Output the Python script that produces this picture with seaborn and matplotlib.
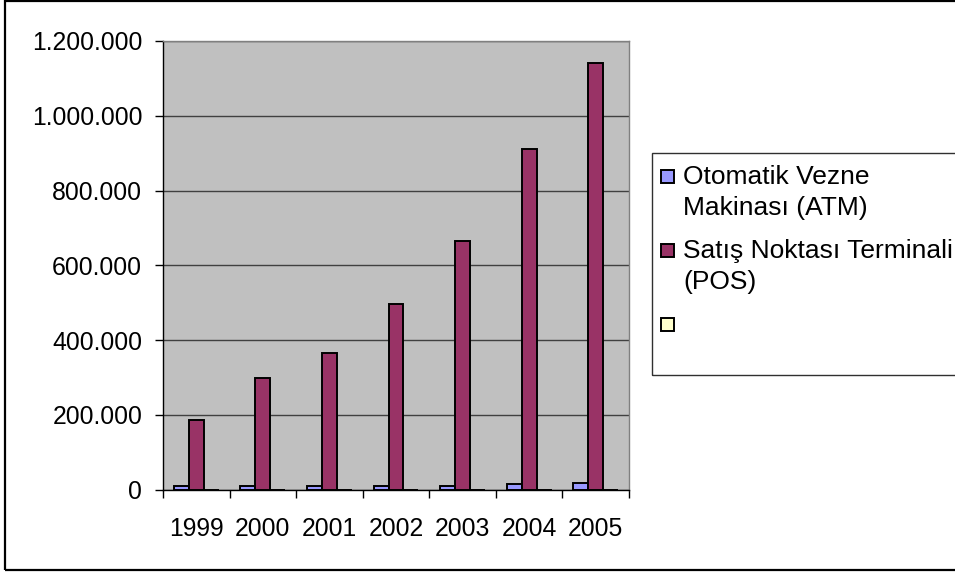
import matplotlib
matplotlib.use("Agg")
import matplotlib.pyplot as plt
from matplotlib.patches import Rectangle
import numpy as np
import pandas as pd
import seaborn as sns

# --- Veriler (grafikten okunan yaklaşık değerler) ---
years = ["1999", "2000", "2001", "2002", "2003", "2004", "2005"]
series_names = ["Otomatik Vezne\nMakinası (ATM)", "Satış Noktası Terminali\n(POS)", " "]
atm = [10000, 10000, 10000, 10500, 10500, 16000, 16500]
pos = [186000, 299000, 364000, 497000, 664000, 911000, 1140000]
empty = [0, 0, 0, 0, 0, 0, 0]
colors = ["#9999FF", "#993366", "#FFFFCC"]
y_ticks = [0, 200000, 400000, 600000, 800000, 1000000, 1200000]

df = pd.DataFrame({
    "yil": years * 3,
    "seri": [series_names[0]] * 7 + [series_names[1]] * 7 + [series_names[2]] * 7,
    "deger": atm + pos + empty,
})

sns.set_style("white")
plt.rcParams["font.family"] = ["Liberation Sans", "DejaVu Sans"]
plt.rcParams["text.color"] = "black"
plt.rcParams["xtick.color"] = "black"
plt.rcParams["ytick.color"] = "black"

W, H = 955, 574
fig = plt.figure(figsize=(W / 100, H / 100), dpi=100)
left, right, top, bottom = 163, 629, 41, 489.5
ax = fig.add_axes([left / W, 1 - bottom / H, (right - left) / W, (bottom - top) / H])
ax.set_facecolor("#C0C0C0")

sns.barplot(data=df, x="yil", y="deger", hue="seri", hue_order=series_names,
            palette=colors, saturation=1, width=0.675, gap=0, edgecolor="black",
            linewidth=1.4, legend=False, ax=ax)

ax.set_xlim(-0.5, 6.5)
ax.set_ylim(0, 1200000)
ax.set_yticks(y_ticks)
ax.set_yticklabels([f"{v:,.0f}".replace(",", ".") for v in y_ticks], fontsize=17.8)
ax.yaxis.grid(True, color="#404040", linewidth=1)
ax.xaxis.grid(False)
ax.set_axisbelow(True)
ax.set_xlabel("")
ax.set_ylabel("")

# kategori sınırlarında x çentikleri
ax.set_xticks(np.arange(-0.5, 7, 1), minor=True)
ax.tick_params(axis="x", which="major", length=0, pad=20, labelsize=17.8)
ax.tick_params(axis="x", which="minor", length=6, width=1, direction="out", bottom=True)
ax.tick_params(axis="y", length=6, width=1, direction="out", pad=9, left=True)

for s in ["left", "bottom"]:
    ax.spines[s].set_color("black")
    ax.spines[s].set_linewidth(1)
for s in ["top", "right"]:
    ax.spines[s].set_color("#808080")
    ax.spines[s].set_linewidth(1)

# dış çerçeve (sağ kenar resmin dışında kalıyor)
fig.add_artist(Rectangle((5 / W, 1 - 570 / H), 960 / W, 569 / H, transform=fig.transFigure,
                         fill=False, edgecolor="black", linewidth=1.6, clip_on=False))

# lejant: kutu, işaretler ve yazılar
fig.add_artist(Rectangle((652 / W, 1 - 375 / H), 320 / W, 222 / H, transform=fig.transFigure,
                         fill=False, edgecolor="#303030", linewidth=1))
for i, (name, color) in enumerate(zip(series_names, colors)):
    base = 184 + i * 74
    fig.add_artist(Rectangle((661 / W, 1 - (base - 1) / H), 13 / W, 13 / H,
                             transform=fig.transFigure, facecolor=color,
                             edgecolor="black", linewidth=1.4))
    for j, line in enumerate(name.split("\n")):
        fig.text(683 / W, 1 - (base + j * 31) / H, line, fontsize=19,
                 ha="left", va="baseline")

fig.savefig("out.png", dpi=100)
